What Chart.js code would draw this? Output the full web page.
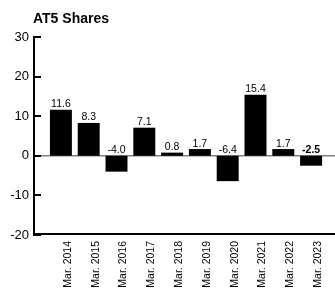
<!DOCTYPE html>
<html>
<head>
<meta charset="utf-8">
<script src="https://cdn.jsdelivr.net/npm/chart.js@4.4.1/dist/chart.umd.min.js"></script>
<style>
html,body{margin:0;padding:0;background:#fff;}
#wrap{width:335px;height:290px;position:relative;}
</style>
</head>
<body>
<div id="wrap"><canvas id="c" width="335" height="290"></canvas></div>
<script>
const TITLE = 'AT5 Shares';
const categories = ['Mar. 2014','Mar. 2015','Mar. 2016','Mar. 2017','Mar. 2018','Mar. 2019','Mar. 2020','Mar. 2021','Mar. 2022','Mar. 2023'];
const values = [11.6, 8.3, -4.0, 7.1, 0.8, 1.7, -6.4, 15.4, 1.7, -2.5];
const valueLabels = ['11.6','8.3','-4.0','7.1','0.8','1.7','-6.4','15.4','1.7','-2.5'];
const yTicks = [30, 20, 10, 0, -10, -20];

const FONT = "'Liberation Sans', Arial, sans-serif";

const decor = {
  id: 'decor',
  beforeDatasetsDraw(chart) {
    const ctx = chart.ctx, y = chart.scales.y;
    const z = y.getPixelForValue(0);
    ctx.save();
    ctx.strokeStyle = '#808080';
    ctx.lineWidth = 1.5;
    ctx.beginPath();
    ctx.moveTo(35, z);
    ctx.lineTo(335, z);
    ctx.stroke();
    ctx.restore();
  },
  afterDatasetsDraw(chart) {
    const ctx = chart.ctx, y = chart.scales.y;
    const top = y.getPixelForValue(30), bot = y.getPixelForValue(-20);
    ctx.save();
    ctx.fillStyle = '#000';
    // axis lines
    ctx.fillRect(33, top - 1, 2, bot - top + 2);
    ctx.fillRect(33, bot - 2, 335 - 33, 2);
    // tick marks
    yTicks.forEach(v => {
      const p = y.getPixelForValue(v);
      ctx.fillRect(35, Math.round(p) - 1, 6, 2);
    });
    // title
    ctx.font = "bold 14px " + FONT;
    ctx.textBaseline = 'alphabetic';
    ctx.textAlign = 'left';
    ctx.fillText(TITLE, 33, 23);
    // value labels
    const meta = chart.getDatasetMeta(0);
    const z = y.getPixelForValue(0);
    ctx.textAlign = 'center';
    meta.data.forEach((bar, i) => {
      const v = values[i];
      const yy = v >= 0 ? bar.y - 2.5 : z - 2.5;
      ctx.font = (i === values.length - 1 ? 'bold ' : '') + '10.5px ' + FONT;
      ctx.fillText(valueLabels[i], bar.x, yy);
    });
    ctx.restore();
  }
};

new Chart(document.getElementById('c'), {
  type: 'bar',
  data: {
    labels: categories,
    datasets: [{
      data: values,
      backgroundColor: '#000',
      borderWidth: 0,
      barPercentage: 0.79,
      categoryPercentage: 1.0
    }]
  },
  options: {
    responsive: false,
    animation: false,
    devicePixelRatio: 1,
    layout: { padding: { left: 0, right: 10, top: 37, bottom: 0 } },
    plugins: { legend: { display: false }, tooltip: { enabled: false }, title: { display: false } },
    scales: {
      x: {
        offset: true,
        grid: { display: false, drawTicks: false },
        border: { display: false },
        afterFit(s) { s.height = 55; },
        ticks: {
          autoSkip: false,
          minRotation: 90,
          maxRotation: 90,
          padding: 6,
          labelOffset: 7,
          color: '#000',
          font: { family: FONT, size: 10.5 }
        }
      },
      y: {
        min: -20,
        max: 30,
        grid: { display: false, drawTicks: false },
        border: { display: false },
        afterFit(s) { s.width = 47; },
        afterBuildTicks(s) { s.ticks = yTicks.map(v => ({ value: v })); },
        ticks: {
          stepSize: 10,
          padding: 18,
          color: '#000',
          font: { family: FONT, size: 13 }
        }
      }
    }
  },
  plugins: [decor]
});
</script>
</body>
</html>
